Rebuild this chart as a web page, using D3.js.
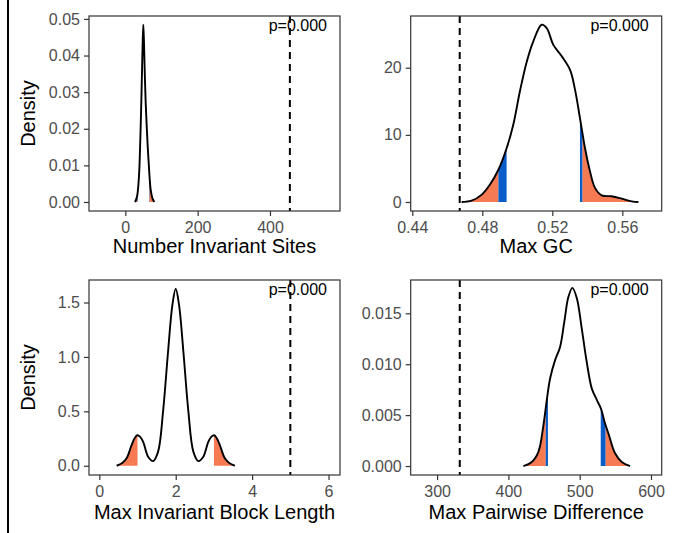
<!DOCTYPE html>
<meta charset="utf-8">
<style>
body { margin: 0; background: #fff; }
svg { display: block; font-family: "Liberation Sans", Arial, sans-serif; }
.axis path { display: none; }
.axis line { stroke: #333; stroke-width: 1.2px; }
.axis text { fill: #4d4d4d; font-size: 16px; }
.frame { fill: none; stroke: #333; stroke-width: 1.2px; }
.density { fill: none; stroke: #000; stroke-width: 1.9px; stroke-linejoin: round; }
.observed { stroke: #000; stroke-width: 2px; stroke-dasharray: 7,5; }
.title { font-size: 20px; fill: #000; }
.pval { font-size: 16px; fill: #000; }
</style>
<svg width="673" height="533"></svg>
<script src="https://d3js.org/d3.v7.min.js"></script>
<script>

// density curves: [value, density]
const invSitesCurve = [[26.8,0],[30,0.0007],[33.2,0.0019],[36,0.0045],[38.7,0.0087],[40.6,0.0142],
  [42.5,0.0206],[44.4,0.028],[46.2,0.036],[48,0.0435],[49.8,0.0484],[51.7,0.0435],[53.6,0.036],
  [56.4,0.027],[59.2,0.0206],[62,0.015],[64.7,0.0106],[67.5,0.0062],[70.2,0.0033],[75,0.001],[80.2,0]];
const maxGcCurve = [[0.4682,0],[0.4739,0.2],[0.4797,1.1],[0.4844,2.6],[0.4892,4.8],[0.4939,8.0],
  [0.4977,11.5],[0.5015,16.5],[0.5054,20.9],[0.5091,23.9],[0.5139,26.4],[0.5168,25.9],[0.5206,23.4],
  [0.5254,21.7],[0.5301,19.7],[0.533,16.7],[0.5358,12.5],[0.5387,8.0],[0.5415,4.6],[0.5444,2.1],
  [0.5482,1.0],[0.5539,0.85],[0.5597,0.5],[0.5654,0.1],[0.5692,0]];
const blockLenCurve = [[0.454,0],[0.6,0.025],[0.714,0.068],[0.845,0.19],[0.92,0.25],[0.99,0.28],
  [1.07,0.265],[1.148,0.22],[1.278,0.083],[1.408,0.043],[1.539,0.13],[1.669,0.5],[1.8,1.05],
  [1.914,1.48],[2.0,1.626],[2.086,1.48],[2.2,1.05],[2.331,0.5],[2.461,0.13],[2.592,0.043],
  [2.722,0.083],[2.852,0.22],[2.93,0.265],[3.01,0.28],[3.08,0.25],[3.155,0.19],[3.286,0.068],
  [3.4,0.025],[3.546,0]];
const pairDiffCurve = [[421,0],[432.8,0.0004],[442.1,0.0014],[449.1,0.004],[453.9,0.0065],
  [458.5,0.0086],[465.5,0.0104],[472.5,0.0117],[478.5,0.0142],[484.1,0.0166],[489.8,0.0175],
  [495.9,0.0165],[502.9,0.0135],[509.9,0.0102],[517,0.0076],[524,0.0065],[530,0.0056],
  [535,0.0043],[540.3,0.0032],[549.6,0.00125],[559,0.0004],[570.7,0]];

// shading cut points: [low orange end, low blue end, high blue start, high orange start]
const invSitesCuts = [33, 34.5, 65.5, 67];
const maxGcCuts = [0.4892, 0.4939, 0.5358, 0.5373];
const blockLenCuts = [1.0, 1.0, 3.0, 3.0];
const pairDiffCuts = [452.4, 455.5, 529.5, 536.5];

const titles = ["Number Invariant Sites", "Max GC", "Max Invariant Block Length", "Max Pairwise Difference"];
const observed = [455, 0.4671, 5, 331.8];
const pLabels = ["p=0.000", "p=0.000", "p=0.000", "p=0.000"];
const xDomains = [[-100.4, 593.6], [0.4391, 0.5825], [-0.27, 6.3], [263, 615]];
const yDomains = [[-0.00246, 0.0508], [-1.34, 27.7], [-0.085, 1.707], [-0.00088, 0.01827]];
const xTicks = [[0, 200, 400], [0.44, 0.48, 0.52, 0.56], [0, 2, 4, 6], [300, 400, 500, 600]];
const yTicks = [[0, 0.01, 0.02, 0.03, 0.04, 0.05], [0, 10, 20], [0, 0.5, 1, 1.5], [0, 0.005, 0.01, 0.015]];
const xFormats = ["d", ".2f", "d", "d"];
const yFormats = [".2f", "d", ".1f", ".3f"];

const curves = [invSitesCurve, maxGcCurve, blockLenCurve, pairDiffCurve];
const cuts = [invSitesCuts, maxGcCuts, blockLenCuts, pairDiffCuts];

const orange = "#f67a52", blue = "#0a5cc9";

const svg = d3.select("svg");
const cols = [[89, 340], [410.7, 661.7]];
const rows = [[16, 211], [280, 475]];
const titleY = [253, 519];

svg.append("rect").attr("x", 7).attr("y", 0).attr("width", 2).attr("height", 533).attr("fill", "#000");

curves.forEach((data, i) => {
  const col = i % 2, row = Math.floor(i / 2);
  const w = cols[col][1] - cols[col][0], h = rows[row][1] - rows[row][0];
  const g = svg.append("g").attr("transform", "translate(" + cols[col][0] + "," + rows[row][0] + ")");

  const xScale = d3.scaleLinear().domain(xDomains[i]).range([0, w]);
  const yScale = d3.scaleLinear().domain(yDomains[i]).range([h, 0]);

  const area = d3.area()
      .x(d => xScale(d[0]))
      .y0(yScale(0))
      .y1(d => yScale(d[1]))
      .curve(d3.curveCatmullRom);
  const line = d3.line()
      .x(d => xScale(d[0]))
      .y(d => yScale(d[1]))
      .curve(d3.curveCatmullRom);

  const c = cuts[i];
  const first = data[0][0], last = data[data.length - 1][0];
  const bands = [[first, c[0], orange], [c[0], c[1], blue], [c[2], c[3], blue], [c[3], last, orange]];

  bands.forEach((b, j) => {
    if (b[1] <= b[0]) return;
    const id = "clip" + i + "_" + j;
    g.append("clipPath").attr("id", id)
      .append("rect")
        .attr("x", xScale(b[0]))
        .attr("y", 0)
        .attr("width", xScale(b[1]) - xScale(b[0]))
        .attr("height", h);
    g.append("path")
        .datum(data)
        .attr("clip-path", "url(#" + id + ")")
        .attr("fill", b[2])
        .attr("d", area);
  });

  g.append("path")
      .datum(data)
      .attr("class", "density")
      .attr("d", line);

  g.append("text")
      .attr("class", "pval")
      .attr("x", w - 13)
      .attr("y", 15)
      .attr("text-anchor", "end")
      .text(pLabels[i]);

  g.append("line")
      .attr("class", "observed")
      .attr("x1", xScale(observed[i]))
      .attr("x2", xScale(observed[i]))
      .attr("y1", 0)
      .attr("y2", h);

  g.append("g")
      .attr("class", "axis")
      .attr("transform", "translate(0," + h + ")")
      .call(d3.axisBottom(xScale).tickValues(xTicks[i]).tickFormat(d3.format(xFormats[i]))
        .tickSize(5).tickSizeOuter(0).tickPadding(6));

  g.append("g")
      .attr("class", "axis")
      .call(d3.axisLeft(yScale).tickValues(yTicks[i]).tickFormat(d3.format(yFormats[i]))
        .tickSize(5).tickSizeOuter(0).tickPadding(4));

  g.append("rect")
      .attr("class", "frame")
      .attr("width", w)
      .attr("height", h);

  svg.append("text")
      .attr("class", "title")
      .attr("x", cols[col][0] + w / 2)
      .attr("y", titleY[row])
      .attr("text-anchor", "middle")
      .text(titles[i]);

  if (col === 0) {
    g.append("text")
        .attr("class", "title")
        .attr("transform", "translate(-54," + (h / 2) + ") rotate(-90)")
        .attr("text-anchor", "middle")
        .text("Density");
  }
});

</script>
